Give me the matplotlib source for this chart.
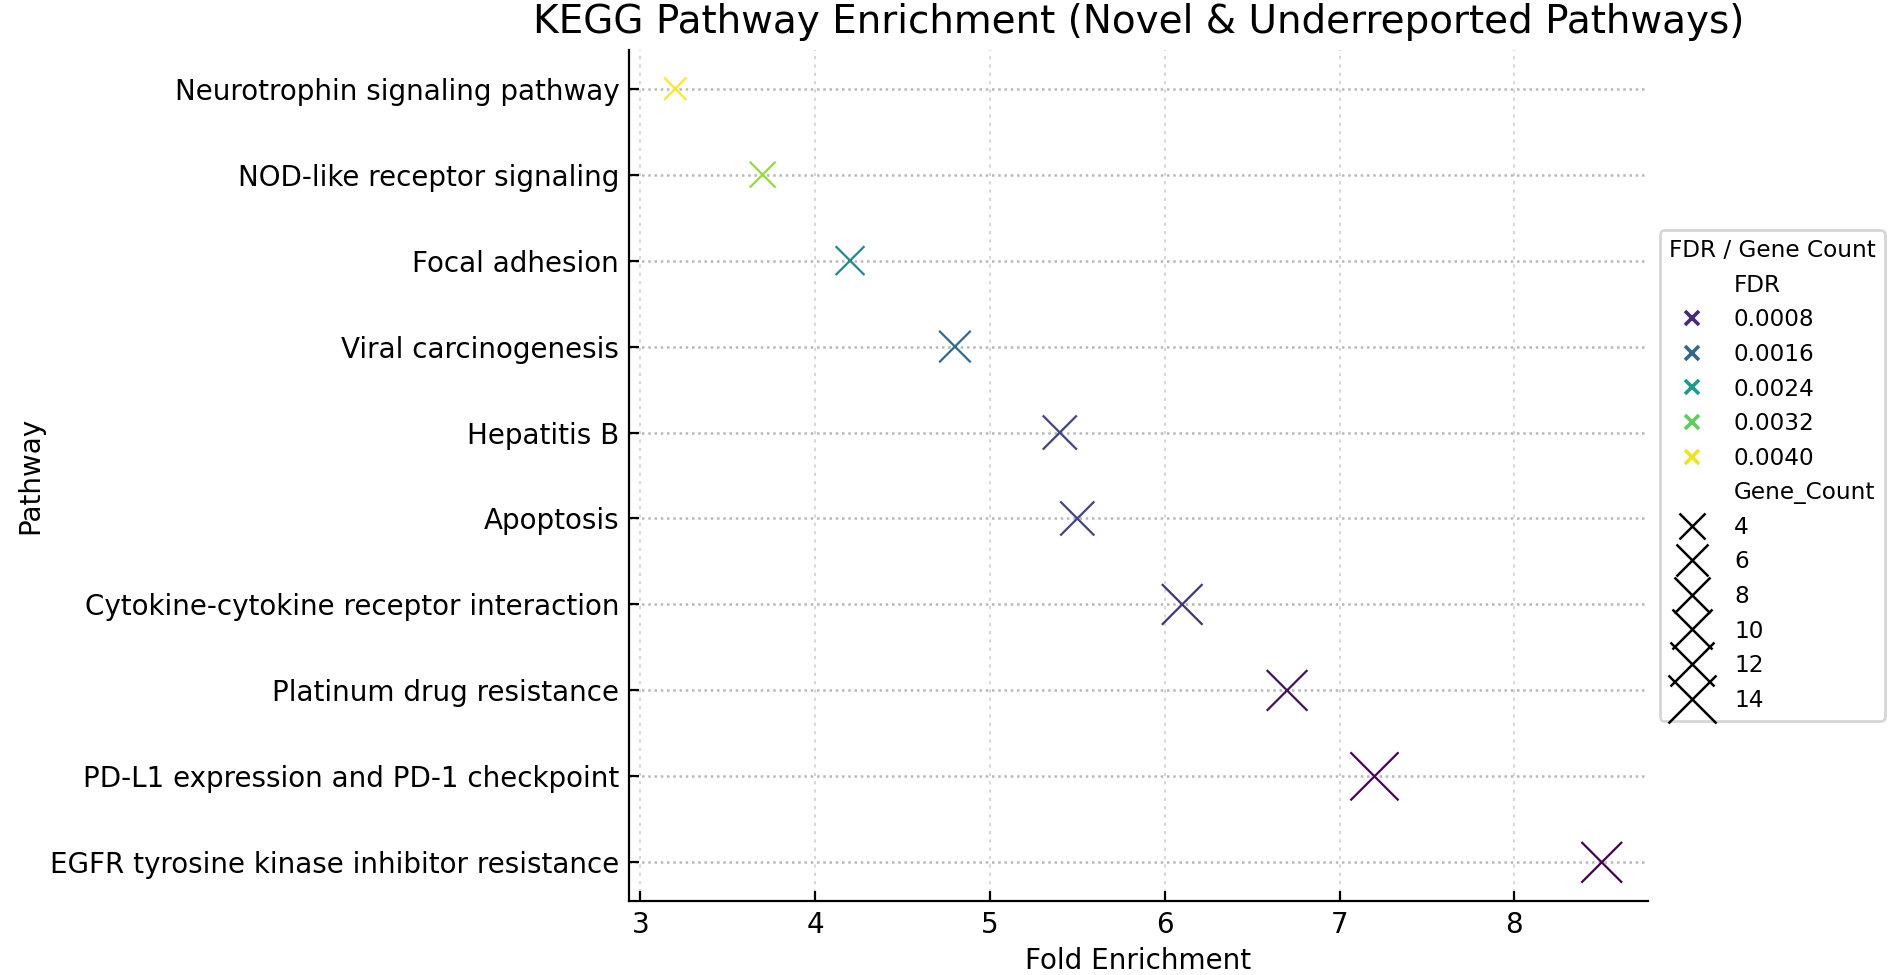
import numpy as np
import matplotlib
matplotlib.use("Agg")
import matplotlib.pyplot as plt
from matplotlib.lines import Line2D
from matplotlib.colors import Normalize

# ---- data (top-to-bottom order as displayed) ----
pathways = [
    "Neurotrophin signaling pathway",
    "NOD-like receptor signaling",
    "Focal adhesion",
    "Viral carcinogenesis",
    "Hepatitis B",
    "Apoptosis",
    "Cytokine-cytokine receptor interaction",
    "Platinum drug resistance",
    "PD-L1 expression and PD-1 checkpoint",
    "EGFR tyrosine kinase inhibitor resistance",
]
fold_enrichment = [3.2, 3.7, 4.2, 4.8, 5.4, 5.5, 6.1, 6.7, 7.2, 8.5]
fdr = [0.0041, 0.0035, 0.0021, 0.0016, 0.0011, 0.0011, 0.0009, 0.0005, 0.0004, 0.00035]
gene_count = [3, 4, 5, 6, 7, 7, 10, 10, 14, 10]

fdr_legend = [0.0008, 0.0016, 0.0024, 0.0032, 0.0040]
fdr_legend_labels = ["0.0008", "0.0016", "0.0024", "0.0032", "0.0040"]
count_legend = [4, 6, 8, 10, 12, 14]

# ---- style ----
plt.rcParams["font.family"] = ["DejaVu Sans"]
cmap = plt.get_cmap("viridis")
norm = Normalize(vmin=min(fdr), vmax=max(fdr))
smin, smax = 65.0, 300.0
gmin, gmax = min(gene_count), max(gene_count)

def size_of(g):
    return smin + (g - gmin) / (gmax - gmin) * (smax - smin)

fig = plt.figure(figsize=(9.5, 4.875), dpi=200)
ax = fig.add_axes([0.331, 0.0759, 0.8674 - 0.331, 0.9487 - 0.0759])

ypos = np.arange(len(pathways))
ax.scatter(fold_enrichment, ypos,
           c=[cmap(norm(v)) for v in fdr],
           s=[size_of(g) for g in gene_count],
           marker="x", linewidths=0.8, zorder=3)

ax.set_yticks(ypos)
ax.set_yticklabels(pathways)
ax.invert_yaxis()
ax.set_xticks([3, 4, 5, 6, 7, 8])

ax.grid(axis="x", linestyle=(0, (2, 3)), color="0.82", linewidth=0.6)
ax.grid(axis="y", linestyle=(0, (1, 1.5)), color="0.72", linewidth=0.9)
ax.set_axisbelow(True)
for sp in ["top", "right"]:
    ax.spines[sp].set_visible(False)
ax.tick_params(direction="in", length=3.5, labelsize=10)

ax.set_xlabel("Fold Enrichment", fontsize=10, labelpad=3)
ax.set_ylabel("Pathway", fontsize=10, labelpad=2)
ax.set_title("KEGG Pathway Enrichment (Novel & Underreported Pathways)", fontsize=14)

# ---- legend ----
handles, labels = [], []
handles.append(Line2D([], [], linestyle="", marker=""))
labels.append("FDR")
for v, lab in zip(fdr_legend, fdr_legend_labels):
    handles.append(Line2D([], [], linestyle="", marker="x", color=cmap(norm(v)),
                          markersize=5, markeredgewidth=1.3))
    labels.append(lab)
handles.append(Line2D([], [], linestyle="", marker=""))
labels.append("Gene_Count")
for g in count_legend:
    handles.append(Line2D([], [], linestyle="", marker="x", color="black",
                          markersize=np.sqrt(size_of(g)), markeredgewidth=0.9))
    labels.append(str(g))

ax.legend(handles, labels, title="FDR / Gene Count", loc="center left",
          bbox_to_anchor=(1.0, 0.5), fontsize="small", title_fontsize="small")

fig.savefig("out.png", dpi=200)
